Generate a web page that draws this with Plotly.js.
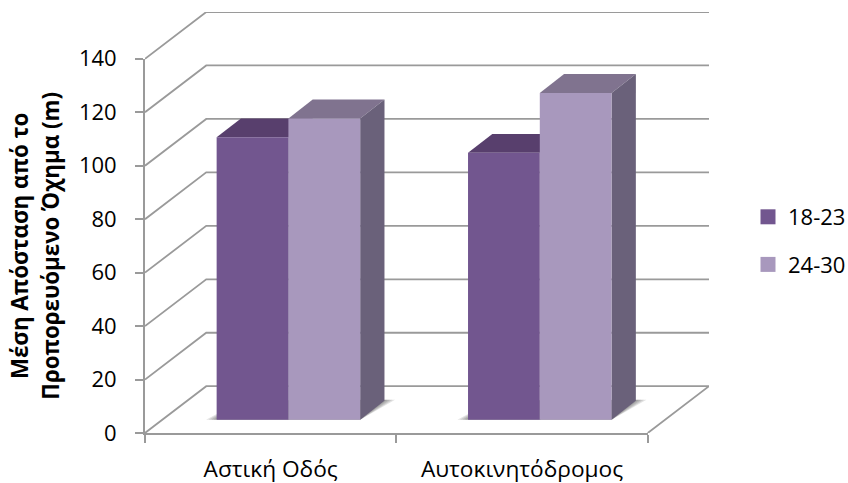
<!DOCTYPE html>
<html>
<head>
<meta charset="utf-8">
<script src="https://cdn.plot.ly/plotly-3.0.1.min.js"></script>
<style>html,body{margin:0;padding:0;background:#fff}</style>
</head>
<body>
<div id="chart" style="width:848px;height:483px"></div>
<script>
// Chart values
const categories = ['Αστική Οδός', 'Αυτοκινητόδρομος'];
const seriesNames = ['18-23', '24-30'];
const younger = [105.6, 99.8];
const older = [112.7, 122.2];
const yTicks = [0, 20, 40, 60, 80, 100, 120, 140];

// Colours per series: front, top and side faces
const frontColors = ['#72568F', '#A898BD'];
const topColors = ['#583F6D', '#80738F'];
const sideColors = ['#54426B', '#6A617A'];
const gridColor = '#9A9A9A';
const font = '"Open Sans", sans-serif';

// Oblique projection, in data units (categories on x, metres on y)
const wall = {dx: 0.2436, dy: 17.5};
const inset = {dx: 0.0705, dy: 5};
const depth = {dx: 0.0966, dy: 7.1};
const barWidth = 0.2855;

// The xy pair spans the walls and floor; x2/y2 carry the visible axes and the bars.
function poly(xs, ys, color) {
  return {
    type: 'scatter', mode: 'none', x: xs.concat(xs[0]), y: ys.concat(ys[0]),
    fill: 'toself', fillcolor: color, hoverinfo: 'skip', showlegend: false,
    cliponaxis: false, xaxis: 'x', yaxis: 'y'
  };
}
function polyline(xs, ys) {
  return {
    type: 'scatter', mode: 'lines', x: xs, y: ys,
    line: {color: gridColor, width: 1.8}, hoverinfo: 'skip', showlegend: false,
    cliponaxis: false, xaxis: 'x', yaxis: 'y'
  };
}

const traces = [];

// Side wall and back wall gridlines
yTicks.forEach(v => {
  if (v === 0) {
    traces.push(polyline([0, wall.dx, 2 + wall.dx, 2], [0, wall.dy, wall.dy, 0]));
  } else {
    traces.push(polyline([0, wall.dx, 2 + wall.dx], [v, v + wall.dy, v + wall.dy]));
  }
});

// Soft floor shadows below each pair of bars
categories.forEach((c, i) => {
  const left = i + 0.5 + inset.dx - barWidth;
  const right = left + 2 * barWidth;
  [0.042, 0.032, 0.022, 0.012].forEach(e => {
    traces.push(poly(
      [left - e, right, right + depth.dx + e, left + depth.dx],
      [inset.dy, inset.dy, inset.dy + depth.dy + 0.3, inset.dy + depth.dy],
      'rgba(40,40,40,0.13)'
    ));
  });
});

// Top and side faces of every bar, behind the front faces
[younger, older].forEach((vals, s) => {
  vals.forEach((v, i) => {
    const left = i + 0.5 + inset.dx - barWidth + s * barWidth;
    const right = left + barWidth;
    const top = inset.dy + v;
    traces.push(poly(
      [left, left + depth.dx, right + depth.dx, right],
      [top, top + depth.dy, top + depth.dy, top],
      topColors[s]
    ));
    traces.push(poly(
      [right, right + depth.dx, right + depth.dx, right],
      [inset.dy, inset.dy + depth.dy, top + depth.dy, top],
      sideColors[s]
    ));
  });
});

// Front faces
[younger, older].forEach((vals, s) => {
  traces.push({
    type: 'bar', name: seriesNames[s],
    x: vals.map((v, i) => i + 0.5 + inset.dx),
    y: vals, base: vals.map(() => inset.dy),
    marker: {color: frontColors[s], line: {width: 0}},
    showlegend: false, xaxis: 'x2', yaxis: 'y2'
  });
});

// Legend entries with larger square swatches
seriesNames.forEach((n, s) => {
  traces.push({
    type: 'scatter', mode: 'markers', name: n, x: [null], y: [null],
    marker: {symbol: 'square', size: 15, color: frontColors[s]},
    legendgroup: n, xaxis: 'x2', yaxis: 'y2'
  });
});

const layout = {
  width: 848, height: 483,
  paper_bgcolor: '#fff', plot_bgcolor: 'rgba(0,0,0,0)',
  margin: {l: 145, r: 138.7, t: 11.5, b: 50, autoexpand: false},
  font: {family: font, size: 22, color: '#000'},
  barmode: 'group', bargap: 0.429, bargroupgap: 0,
  xaxis: {range: [0, 2 + wall.dx], domain: [0, 1], visible: false},
  yaxis: {range: [0, 140 + wall.dy], domain: [0, 1], visible: false},
  xaxis2: {
    range: [0, 2], domain: [0, 2 / (2 + wall.dx)], anchor: 'y2',
    showgrid: false, zeroline: false,
    showline: true, linecolor: gridColor, linewidth: 1.8,
    tickmode: 'array', tickvals: [0.5, 1.5], ticktext: categories, ticks: '',
    tickfont: {family: font, size: 22.7, color: '#000'},
    ticklabelstandoff: 15,
    minor: {tickmode: 'array', tickvals: [0, 1, 2], ticks: 'outside', ticklen: 8, tickwidth: 1.8, tickcolor: gridColor, showgrid: false}
  },
  yaxis2: {
    range: [0, 140], domain: [0, 140 / (140 + wall.dy)], anchor: 'x2',
    showgrid: false, zeroline: false,
    showline: true, linecolor: gridColor, linewidth: 1.8,
    tickmode: 'array', tickvals: yTicks,
    ticks: 'outside', ticklen: 8, tickwidth: 1.8, tickcolor: gridColor,
    ticklabelstandoff: 14,
    title: {
      text: '<span style="font-size:22.3px">Μέση Απόσταση από το</span><br><span style="font-size:22.3px">Προπορευόμενο Όχημα (m)</span>',
      font: {family: font, size: 23.5, weight: 700, color: '#000'},
      standoff: 13
    }
  },
  legend: {
    xref: 'container', yref: 'container', x: 748 / 848, y: 1 - 196 / 483,
    xanchor: 'left', yanchor: 'top', traceorder: 'grouped', tracegroupgap: 16,
    bgcolor: 'rgba(0,0,0,0)', font: {family: font, size: 22, color: '#000'}
  },
  showlegend: true
};

Plotly.newPlot('chart', traces, layout, {displayModeBar: false, responsive: false});
</script>
</body>
</html>
